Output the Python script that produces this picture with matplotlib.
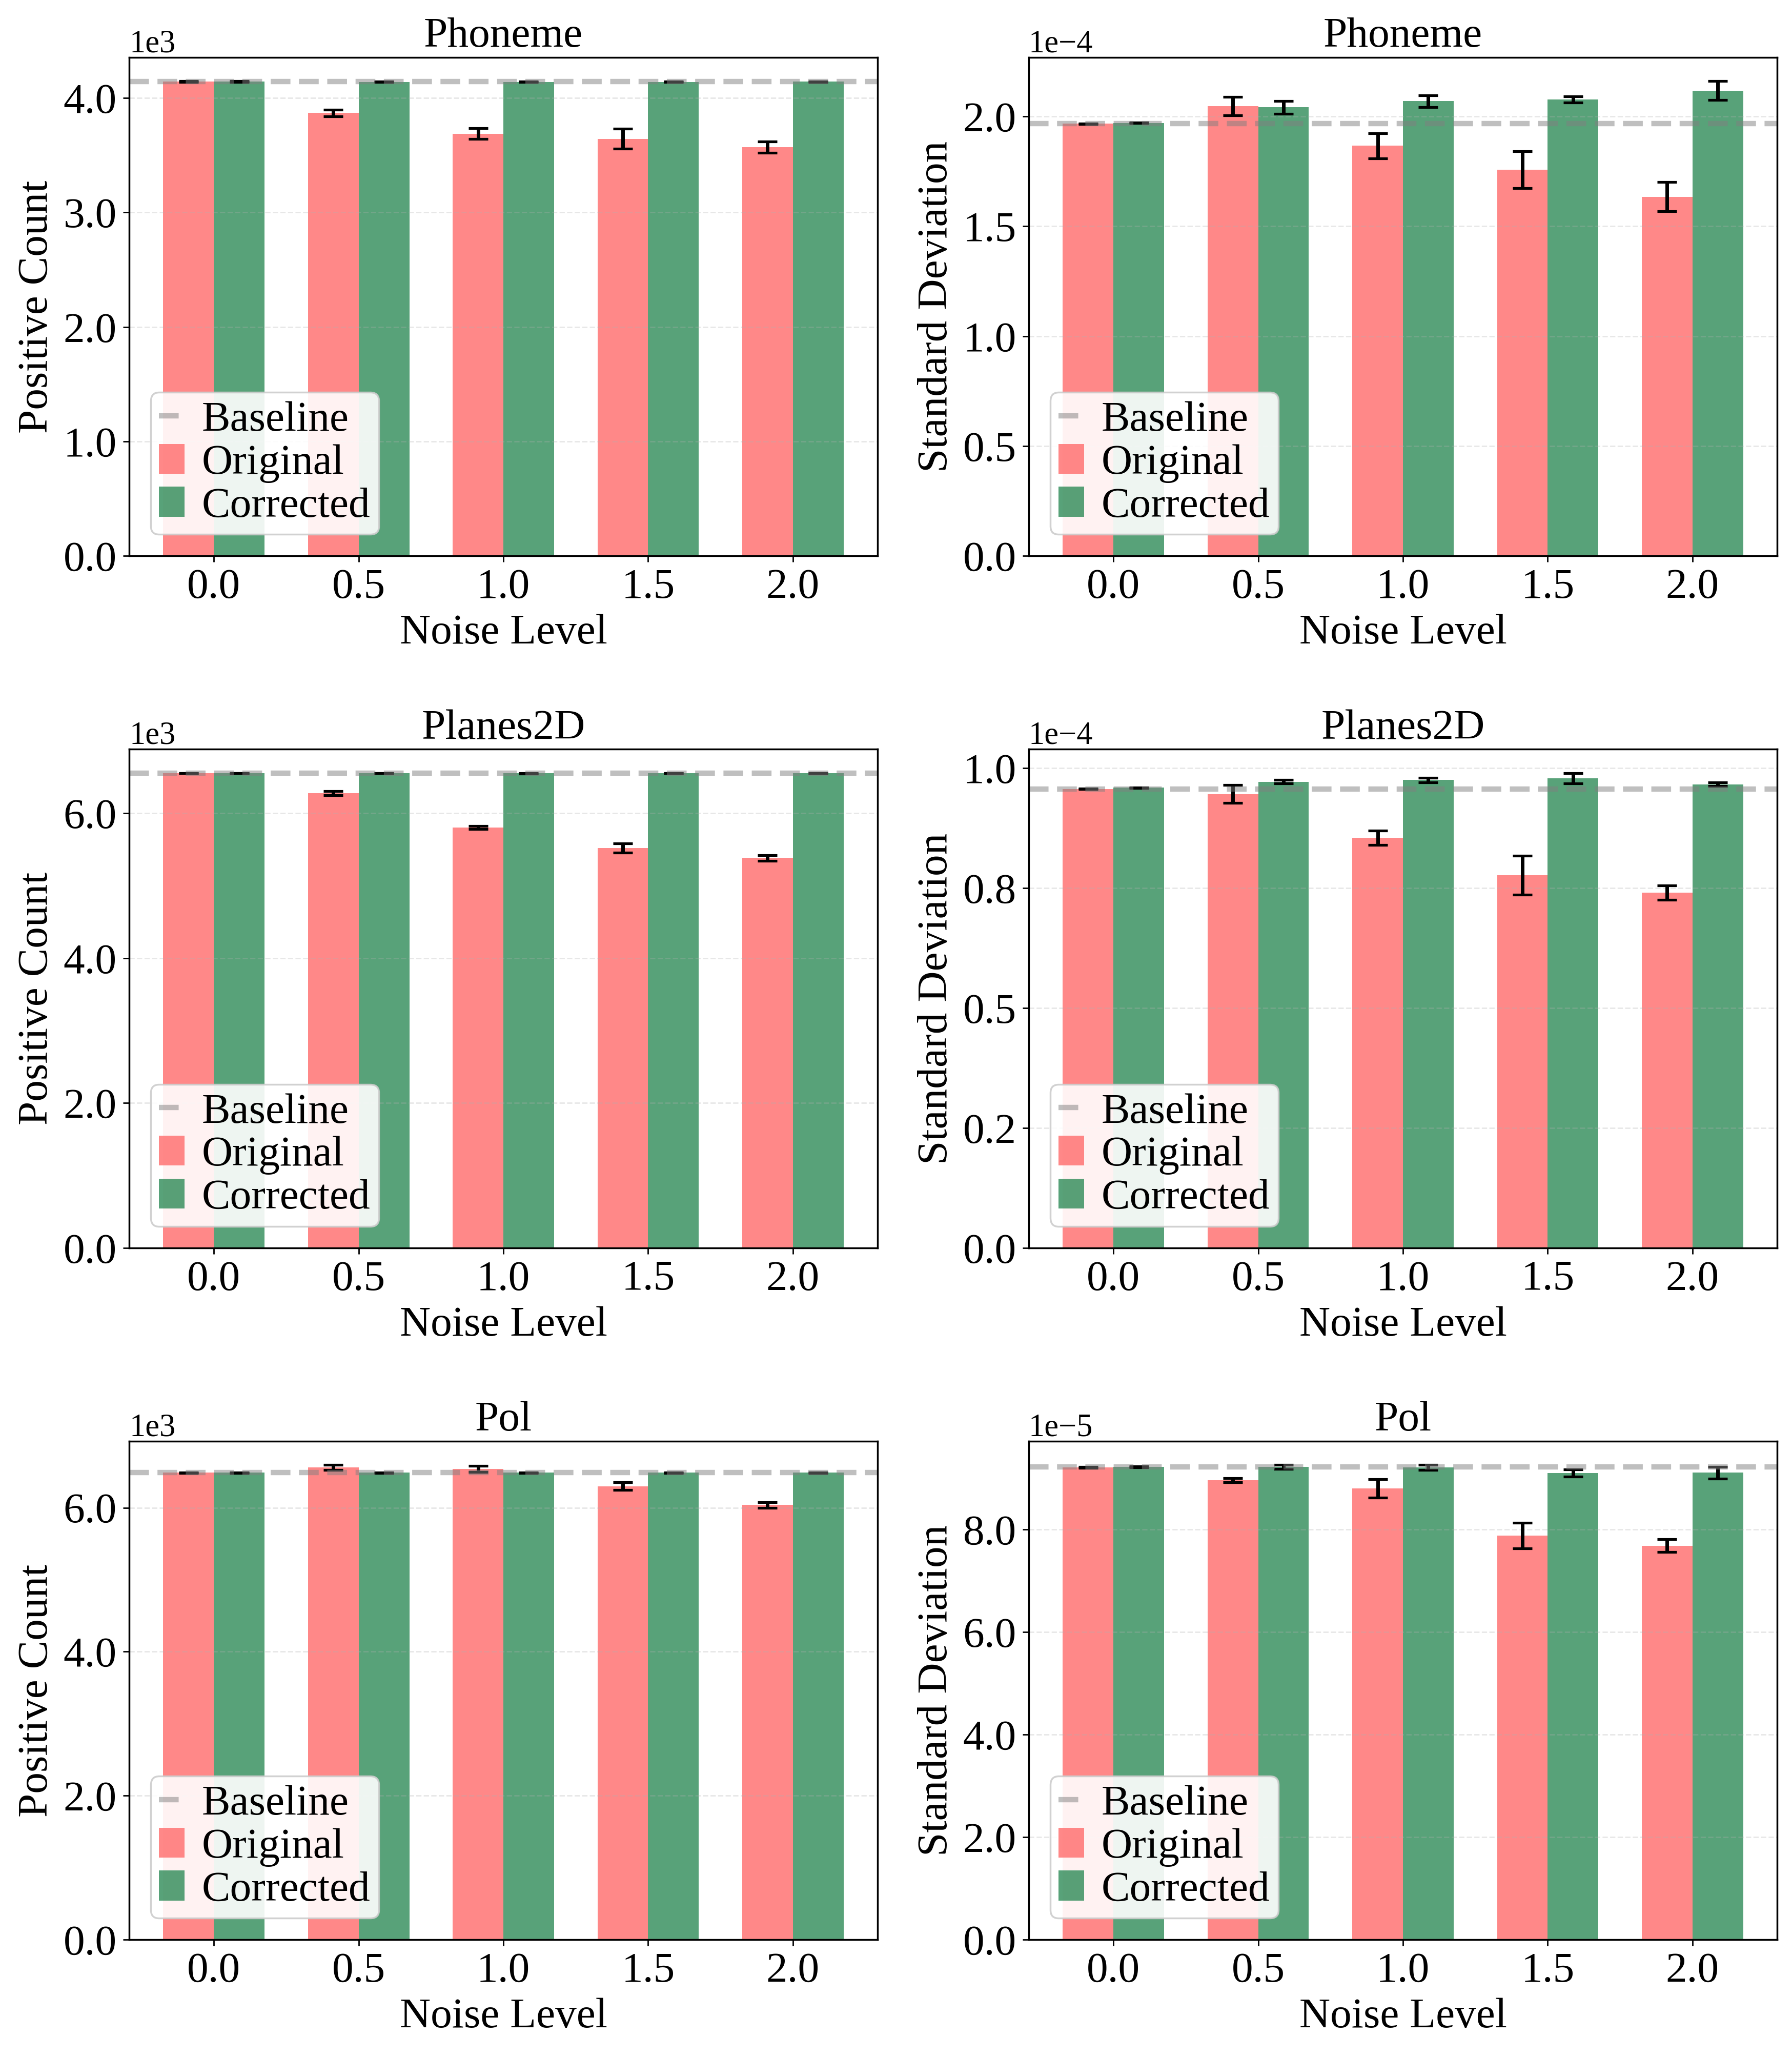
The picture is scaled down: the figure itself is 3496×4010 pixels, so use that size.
import numpy as np
import matplotlib
matplotlib.use("Agg")
import matplotlib.pyplot as plt
from matplotlib.ticker import ScalarFormatter

plt.rcParams['font.family'] = ['Liberation Serif', 'DejaVu Serif']
plt.rcParams['font.size'] = 18
plt.rcParams['axes.linewidth'] = 1.0

noise_levels = ['0.0', '0.5', '1.0', '1.5', '2.0']
datasets = ['Phoneme', 'Planes2D', 'Pol']

# positive count (raw units)
count_baseline = [4145, 6555, 6487]
count_orig = [
    [4145, 3870, 3689, 3644, 3570],
    [6555, 6280, 5806, 5524, 5384],
    [6487, 6558, 6540, 6297, 6036],
]
count_orig_err = [
    [3, 30, 46, 87, 48],
    [3, 30, 23, 64, 38],
    [3, 36, 42, 53, 39],
]
count_corr = [
    [4145, 4142, 4141, 4142, 4143],
    [6555, 6555, 6554, 6555, 6555],
    [6487, 6487, 6486, 6487, 6487],
]
count_corr_err = [
    [3, 3, 3, 3, 3],
    [3, 3, 3, 3, 3],
    [3, 3, 3, 3, 3],
]

# standard deviation
std_baseline = [1.967e-4, 0.9566e-4, 9.216e-5]
std_orig = [
    [1.967e-4, 2.046e-4, 1.867e-4, 1.758e-4, 1.635e-4],
    [0.9566e-4, 0.946e-4, 0.8546e-4, 0.7766e-4, 0.740e-4],
    [9.208e-5, 8.957e-5, 8.799e-5, 7.881e-5, 7.681e-5],
]
std_orig_err = [
    [0.001e-4, 0.042e-4, 0.057e-4, 0.084e-4, 0.067e-4],
    [0.0005e-4, 0.0186e-4, 0.0146e-4, 0.041e-4, 0.015e-4],
    [0.01e-5, 0.04e-5, 0.18e-5, 0.25e-5, 0.125e-5],
]
std_corr = [
    [1.971e-4, 2.042e-4, 2.070e-4, 2.077e-4, 2.118e-4],
    [0.959e-4, 0.9716e-4, 0.975e-4, 0.9787e-4, 0.9663e-4],
    [9.216e-5, 9.22e-5, 9.208e-5, 9.099e-5, 9.107e-5],
]
std_corr_err = [
    [0.001e-4, 0.029e-4, 0.027e-4, 0.014e-4, 0.043e-4],
    [0.0005e-4, 0.0035e-4, 0.005e-4, 0.011e-4, 0.004e-4],
    [0.01e-5, 0.04e-5, 0.05e-5, 0.067e-5, 0.117e-5],
]


class FixedFormatter(ScalarFormatter):
    def _set_format(self):
        self.format = "%1.1f"


fig, axes = plt.subplots(3, 2, figsize=(13.984, 16.04), dpi=250)
fig.subplots_adjust(left=0.0721, right=0.9917, top=0.9721, bottom=0.0566,
                    wspace=0.202, hspace=0.388)

x = np.arange(len(noise_levels))
w = 0.35
red = '#ff6b6b'
green = '#2e8b57'
err_kw = dict(ecolor='black', capsize=5.5, elinewidth=2, capthick=1.5)

for i, name in enumerate(datasets):
    panels = [
        (axes[i, 0], count_baseline[i], count_orig[i], count_orig_err[i],
         count_corr[i], count_corr_err[i], 'Positive Count'),
        (axes[i, 1], std_baseline[i], std_orig[i], std_orig_err[i],
         std_corr[i], std_corr_err[i], 'Standard Deviation'),
    ]
    for ax, base, orig, oerr, corr, cerr, ylab in panels:
        ax.bar(x - w / 2, orig, w, yerr=oerr, color=red, alpha=0.8,
               label='Original', error_kw=err_kw)
        ax.bar(x + w / 2, corr, w, yerr=cerr, color=green, alpha=0.8,
               label='Corrected', error_kw=err_kw)
        ax.axhline(base, color='gray', linestyle='--', linewidth=3, alpha=0.5,
                   label='Baseline')
        ax.set_title(name, fontsize=24)
        ax.set_xlabel('Noise Level', fontsize=24)
        ax.set_ylabel(ylab, fontsize=24)
        ax.set_xticks(x)
        ax.set_xticklabels(noise_levels)
        ax.tick_params(axis='both', labelsize=24)
        fmt = FixedFormatter()
        fmt.set_powerlimits((0, 0))
        ax.yaxis.set_major_formatter(fmt)
        ax.grid(axis='y', linestyle='--', alpha=0.3)
        h, l = ax.get_legend_handles_labels()
        order = [l.index('Baseline'), l.index('Original'), l.index('Corrected')]
        ax.legend([h[k] for k in order], [l[k] for k in order], loc='lower left',
                  fontsize=24, framealpha=0.9, handlelength=0.6,
                  handletextpad=0.4, borderpad=0.2, labelspacing=0.09)

fig.savefig('out.png', dpi=250)
